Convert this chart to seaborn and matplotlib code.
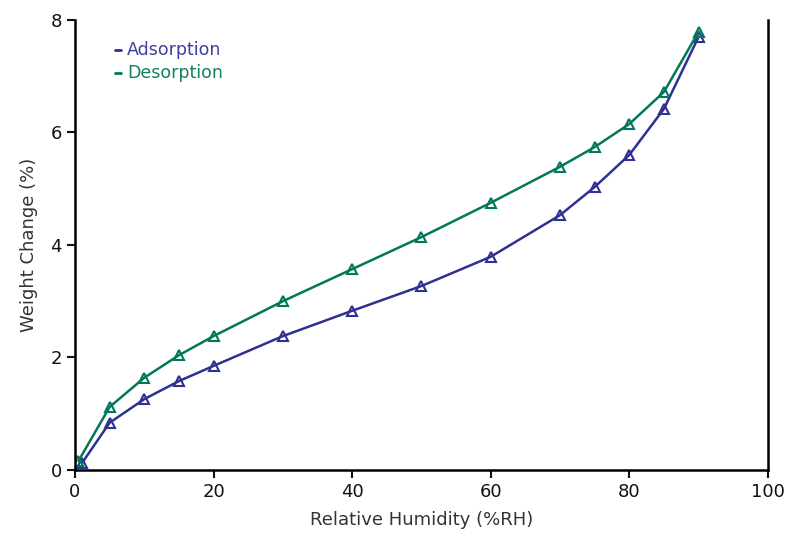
import matplotlib
matplotlib.use("Agg")
import matplotlib.pyplot as plt
import seaborn as sns
import pandas as pd

ads_rh = [1, 5, 10, 15, 20, 30, 40, 50, 60, 70, 75, 80, 85, 90]
ads_wt = [0.12, 0.84, 1.26, 1.58, 1.85, 2.38, 2.83, 3.27, 3.79, 4.53, 5.03, 5.60, 6.42, 7.70]
des_rh = [0.5, 5, 10, 15, 20, 30, 40, 50, 60, 70, 75, 80, 85, 90]
des_wt = [0.16, 1.12, 1.64, 2.04, 2.38, 3.00, 3.57, 4.14, 4.75, 5.39, 5.74, 6.15, 6.72, 7.79]

df = pd.concat([
    pd.DataFrame({"RH": ads_rh, "Weight": ads_wt, "Series": "Adsorption"}),
    pd.DataFrame({"RH": des_rh, "Weight": des_wt, "Series": "Desorption"}),
])

sns.set_style("ticks")
plt.rcParams['font.family'] = ['DejaVu Sans']
colors = {"Adsorption": "#2e3192", "Desorption": "#00785a"}
text_colors = {"Adsorption": "#3d3f9e", "Desorption": "#13805f"}

fig = plt.figure(figsize=(7.91, 5.38), dpi=100)
ax = fig.add_axes([0.0948, 0.1264, 0.876, 0.8366])

for name, sub in df.groupby("Series", sort=False):
    sns.lineplot(data=sub, x="RH", y="Weight", ax=ax, color=colors[name],
                 marker="^", markersize=7, markerfacecolor="none",
                 markeredgecolor=colors[name], markeredgewidth=1.5,
                 linewidth=1.8, sort=False, label=name, legend=False)

ax.set_xlim(0, 100)
ax.set_ylim(0, 8)
ax.set_xticks([0, 20, 40, 60, 80, 100])
ax.set_yticks([0, 2, 4, 6, 8])
ax.set_xlabel("Relative Humidity (%RH)", fontsize=13, color="#333333", labelpad=7)
ax.set_ylabel("Weight Change (%)", fontsize=13, color="#333333", labelpad=9)
ax.tick_params(labelsize=13, direction="out", length=6, width=1.5, colors="#111111")
for s in ["left", "bottom", "right"]:
    ax.spines[s].set_linewidth(1.8)
    ax.spines[s].set_color("black")
ax.spines["top"].set_visible(False)
ax.spines["right"].set_visible(True)

for i, name in enumerate(["Adsorption", "Desorption"]):
    y = 0.933 - i * 0.051
    ax.plot([0.058, 0.067], [y, y], transform=ax.transAxes, color=colors[name], lw=2)
    ax.text(0.075, y, name, transform=ax.transAxes, color=text_colors[name],
            fontsize=12.5, va="center", ha="left")

fig.savefig("out.png", dpi=100)
